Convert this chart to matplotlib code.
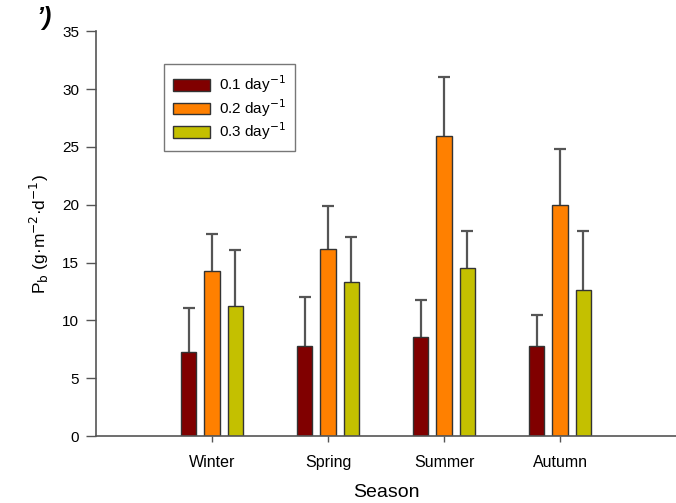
import matplotlib
matplotlib.use("Agg")
import matplotlib.pyplot as plt
import numpy as np

plt.rcParams['font.family'] = ['Liberation Sans', 'DejaVu Sans']

seasons = ["Winter", "Spring", "Summer", "Autumn"]
series_labels = ["0.1 day$^{-1}$", "0.2 day$^{-1}$", "0.3 day$^{-1}$"]
vals_01 = [7.3, 7.8, 8.55, 7.8]
vals_02 = [14.3, 16.2, 25.9, 20.0]
vals_03 = [11.25, 13.3, 14.5, 12.6]
err_01 = [3.75, 4.25, 3.25, 2.7]
err_02 = [3.2, 3.7, 5.1, 4.85]
err_03 = [4.85, 3.9, 3.25, 5.15]
colors = ["#800000", "#FF8000", "#C4C000"]
yticks = [0, 5, 10, 15, 20, 25, 30, 35]

fig = plt.figure(figsize=(6.76, 5.03), dpi=100)
ax = fig.add_axes([0.142, 0.1332, 0.858, 0.8048])

x = np.arange(len(seasons))
width = 0.13
offsets = [-0.2, 0.0, 0.2]
for vals, errs, c, lab, off in zip([vals_01, vals_02, vals_03], [err_01, err_02, err_03],
                                    colors, series_labels, offsets):
    ax.bar(x + off, vals, width, color=c, edgecolor="#333333", linewidth=1.0, label=lab, zorder=2)
    eb = ax.errorbar(x + off, vals, yerr=[np.zeros(len(errs)), errs], fmt="none",
                     ecolor="#555555", elinewidth=1.6, capsize=4.3, capthick=1.6, zorder=1)
    caps = eb[1]
    if len(caps) > 1:
        caps[0].set_visible(False)

ax.set_xlim(-1, 4)
ax.set_ylim(0, 35)
ax.set_yticks(yticks)
ax.set_xticks(x)
ax.set_xticklabels(seasons, fontsize=11.5)
ax.tick_params(axis='y', direction='out', length=7, width=1, color="#555555", labelsize=11, pad=5)
ax.tick_params(axis='x', direction='out', length=4, width=1, color="#555555", labelsize=11.5, pad=10)
for s in ["top", "right"]:
    ax.spines[s].set_visible(False)
for s in ["left", "bottom"]:
    ax.spines[s].set_color("#555555")
    ax.spines[s].set_linewidth(1.2)

ax.set_xlabel("Season", fontsize=14, labelpad=10)
ax.set_ylabel("P$_{\\rm b}$ (g·m$^{-2}$·d$^{-1}$)", fontsize=12.5, labelpad=8)

leg = ax.legend(loc="upper left", bbox_to_anchor=(0.117, 0.918), fontsize=11,
                frameon=True, fancybox=False, edgecolor="#555555",
                handlelength=2.4, handleheight=0.8, borderpad=0.6, labelspacing=0.12,
                handletextpad=0.6, borderaxespad=0.0)
leg.get_frame().set_linewidth(1.0)

fig.text(0.055, 0.965, "’)", fontsize=18, fontweight="bold", style="italic",
         ha="left", va="center")

fig.savefig("out.png", dpi=100)
